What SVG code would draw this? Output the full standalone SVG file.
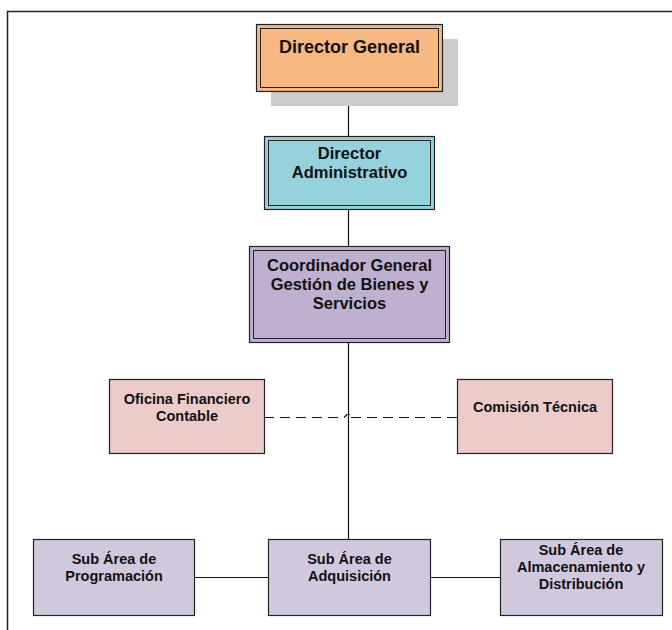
<svg xmlns="http://www.w3.org/2000/svg" width="672" height="630" viewBox="0 0 672 630">
  <style>
    .t { font-family: "Liberation Sans", Arial, sans-serif; font-weight: bold; fill: #111; text-anchor: middle; }
    .big { font-size: 18px; }
    .mid { font-size: 16.5px; }
    .sm { font-size: 14.5px; }
    .box { stroke: #222; stroke-width: 1.2; }
    .inner { fill: none; stroke: #222; stroke-width: 1; }
    .line { stroke: #111; stroke-width: 1.2; fill: none; }
  </style>

  <rect width="672" height="630" fill="#ffffff"/>
  <!-- page frame -->
  <rect x="7.5" y="11.5" width="680" height="640" fill="none" stroke="#222" stroke-width="1.5"/>

  <!-- connectors -->
  <g id="connectors">
    <line class="line" x1="348.5" y1="91" x2="348.5" y2="539"/>
    <line class="line" x1="194" y1="577.5" x2="500" y2="577.5"/>
    <path class="line" d="M264 417.5 H344 L347 414.5 H350 M351 417.5 H457" stroke-dasharray="10 6"/>
  </g>

  <g id="director-general">
    <rect x="271" y="39" width="187" height="67" fill="#cccccc"/>
    <rect class="box" x="256.5" y="24.5" width="186" height="67" fill="#f8b882"/>
    <rect class="inner" x="260.5" y="28.5" width="178" height="59"/>
    <text class="t big" x="349.5" y="53">Director General</text>
  </g>

  <g id="director-administrativo">
    <rect class="box" x="264.5" y="136.5" width="170" height="73" fill="#96d2de"/>
    <rect class="inner" x="268.5" y="140.5" width="162" height="65"/>
    <text class="t mid" x="349.5" y="159">Director</text>
    <text class="t mid" x="349.5" y="178">Administrativo</text>
  </g>

  <g id="coordinador-general">
    <rect class="box" x="249.5" y="246.5" width="200" height="96" fill="#c0b0d0"/>
    <rect class="inner" x="253.5" y="250.5" width="192" height="88"/>
    <text class="t mid" x="349.5" y="271">Coordinador General</text>
    <text class="t mid" x="349.5" y="290">Gestión de Bienes y</text>
    <text class="t mid" x="349.5" y="309">Servicios</text>
  </g>

  <g id="oficina-financiero">
    <rect class="box" x="109.5" y="379.5" width="155" height="74" fill="#eccbc8"/>
    <text class="t sm" x="187" y="404">Oficina Financiero</text>
    <text class="t sm" x="187" y="421">Contable</text>
  </g>

  <g id="comision-tecnica">
    <rect class="box" x="457.5" y="379.5" width="155" height="74" fill="#eccbc8"/>
    <text class="t sm" x="535" y="412">Comisión Técnica</text>
  </g>

  <g id="sub-area-programacion">
    <rect class="box" x="33.5" y="539.5" width="161" height="76" fill="#d2c8de"/>
    <text class="t sm" x="114" y="564">Sub Área de</text>
    <text class="t sm" x="114" y="581">Programación</text>
  </g>

  <g id="sub-area-adquisicion">
    <rect class="box" x="268.5" y="539.5" width="162" height="76" fill="#d2c8de"/>
    <text class="t sm" x="349.5" y="564">Sub Área de</text>
    <text class="t sm" x="349.5" y="581">Adquisición</text>
  </g>

  <g id="sub-area-almacenamiento">
    <rect class="box" x="500.5" y="539.5" width="162" height="76" fill="#d2c8de"/>
    <text class="t sm" x="581" y="555">Sub Área de</text>
    <text class="t sm" x="581" y="572">Almacenamiento y</text>
    <text class="t sm" x="581" y="589">Distribución</text>
  </g>
</svg>
